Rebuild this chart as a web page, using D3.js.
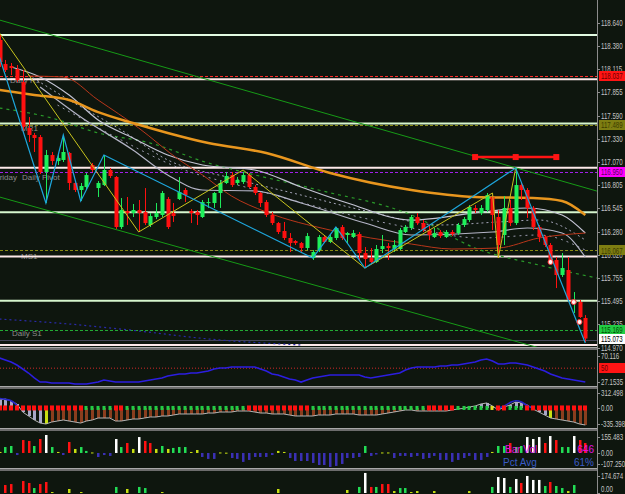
<!DOCTYPE html>
<html>
<head>
<meta charset="utf-8">
<script src="https://cdn.jsdelivr.net/npm/d3@7"></script>
<style>
  body { margin: 0; background: #0e160e; }
  svg { display: block; }
  text { font-family: "Liberation Sans", Arial, sans-serif; }
</style>
</head>
<body>
<div id="chart"></div>
<script>
// ---------- data ----------
var opens = [118.444,118.173,118.150,118.116,117.969,117.450,117.371,117.348,116.953,117.145,
  117.077,117.089,117.168,116.829,116.750,116.784,117.032,116.772,116.806,116.976,
  116.897,116.332,116.513,116.490,116.524,116.501,116.355,116.445,116.468,116.648,
  116.490,116.648,116.750,116.513,116.501,116.445,116.603,116.603,116.716,116.829,
  116.919,116.829,116.840,116.919,116.784,116.716,116.614,116.468,116.377,116.287,
  116.208,116.174,116.151,116.095,115.982,116.072,116.219,116.163,116.208,116.332,
  116.242,116.219,116.253,116.038,115.982,115.937,116.084,116.117,116.084,116.084,
  116.276,116.321,116.445,116.377,116.298,116.219,116.276,116.219,116.276,116.264,
  116.355,116.411,116.547,116.490,116.524,116.671,116.445,116.242,116.547,116.377,
  116.806,116.750,116.547,116.332,116.219,116.129,115.960,115.790,115.847,115.474,
  115.485,115.305];
var highs = [118.500,118.218,118.184,118.161,118.105,117.574,117.394,117.371,117.202,117.179,
  117.168,117.371,117.179,116.851,116.829,116.942,117.055,116.851,117.145,116.998,
  116.908,116.659,116.671,116.592,116.637,116.772,116.490,116.603,116.739,116.671,
  116.603,116.897,116.772,116.535,116.524,116.637,116.659,116.727,116.863,116.953,
  116.953,116.897,116.953,116.942,116.806,116.727,116.637,116.501,116.389,116.389,
  116.264,116.185,116.163,116.264,116.072,116.242,116.242,116.242,116.332,116.355,
  116.276,116.298,116.276,116.106,116.095,116.129,116.242,116.151,116.185,116.321,
  116.355,116.468,116.490,116.411,116.355,116.321,116.298,116.298,116.298,116.377,
  116.445,116.580,116.580,116.580,116.716,116.693,116.524,116.682,116.637,116.998,
  116.840,116.772,116.569,116.355,116.242,116.151,115.993,116.038,115.993,115.598,
  115.508,115.338];
var lows = [118.139,118.082,118.048,117.969,117.394,117.292,117.179,116.930,116.603,117.032,
  117.032,117.066,116.750,116.727,116.626,116.761,116.953,116.671,116.795,116.885,
  116.310,116.310,116.355,116.445,116.276,116.355,116.332,116.422,116.445,116.310,
  116.389,116.637,116.614,116.377,116.355,116.434,116.547,116.547,116.547,116.818,
  116.784,116.806,116.818,116.772,116.693,116.558,116.445,116.355,116.253,116.185,
  116.050,116.129,116.038,116.072,115.960,116.050,116.151,116.151,116.185,116.185,
  116.151,116.208,115.960,115.869,115.926,115.926,116.038,115.960,116.050,116.072,
  116.264,116.298,116.355,116.276,116.185,116.208,116.208,116.208,116.230,116.242,
  116.332,116.389,116.490,116.468,116.501,116.298,115.982,116.129,116.343,116.355,
  116.637,116.434,116.298,116.163,116.106,115.926,115.643,115.768,115.485,115.361,
  115.305,115.034];
var closes = [118.195,118.105,118.127,117.992,117.461,117.371,117.337,116.953,117.145,117.077,
  117.111,117.179,116.829,116.750,116.795,116.919,116.976,116.829,116.976,116.908,
  116.332,116.524,116.490,116.524,116.490,116.377,116.456,116.490,116.716,116.332,
  116.456,116.727,116.693,116.490,116.468,116.614,116.614,116.716,116.829,116.908,
  116.806,116.863,116.919,116.784,116.716,116.603,116.468,116.377,116.276,116.208,
  116.151,116.151,116.095,116.230,116.050,116.219,116.163,116.219,116.321,116.208,
  116.264,116.264,116.038,115.971,115.937,116.084,116.117,116.095,116.129,116.298,
  116.332,116.445,116.377,116.298,116.242,116.264,116.230,116.276,116.253,116.355,
  116.422,116.558,116.524,116.547,116.693,116.468,116.129,116.547,116.377,116.806,
  116.750,116.547,116.332,116.219,116.129,115.937,115.790,115.869,115.508,115.497,
  115.316,115.073];

// moving averages, [bar index, price]
var maOrange = [[0,117.879],[6,117.822],[12,117.766],[17,117.630],[23,117.506],[29,117.394],[36,117.280],
  [46,117.168],[57,116.942],[71,116.750],[82,116.671],[92,116.659],[97,116.626],[101,116.468]];
var maRed = [[5,118.037],[11,118.026],[17,117.766],[24,117.450],[31,117.089],[35,116.919],[40,116.682],
  [46,116.501],[57,116.298],[71,116.140],[78,116.084],[86,116.095],[93,116.208],[101,116.264]];
var maGrayUpper = [[2,118.139],[7,118.026],[12,117.822],[17,117.540],[23,117.337],[29,117.145],[35,117.032],
  [44,116.976],[52,116.784],[60,116.603],[71,116.411],[83,116.501],[91,116.547],[97,116.468],[101,116.264]];
var maGrayLower = [[7,117.913],[14,117.574],[23,117.202],[29,116.919],[35,116.750],[44,116.739],[52,116.603],
  [63,116.377],[71,116.242],[85,116.276],[91,116.321],[97,116.264],[101,115.993]];
var maGrayDash1 = [[5,118.048],[12,117.766],[21,117.427],[29,117.089],[40,116.885],[52,116.693],[64,116.501],
  [76,116.355],[86,116.389],[93,116.411],[101,116.185]];
var maGrayDash2 = [[10,117.709],[21,117.314],[31,116.998],[43,116.772],[57,116.524],[71,116.321],[83,116.208],
  [93,116.242],[101,116.072]];
var maGreenDash = [[0,117.676],[9,117.563],[17,117.394],[26,117.280],[36,117.055],[42,116.953],[55,116.750],
  [71,116.468],[82,116.095],[93,115.903],[103,115.756]];
var maBlueDot = [[0,115.293],[12,115.237],[24,115.158],[36,115.068],[52,115.000]];

// zigzags and channel
var zigCyan = [[0,118.250],[8,116.603],[11,117.371],[14,116.626],[18,117.145],[54,115.982],[58,116.332],
  [63,115.869],[89,116.998],[101,115.022]];
var zigYellow = [[0,118.522],[24,116.276],[42,116.976],[63,115.869],[85,116.716],[86,115.982],[89,116.998]];
var channelUpper = [[0,118.669],[103,116.738]];
var channelLower = [[0,116.671],[103,114.785]];
var topMarker = [[82,117.122],[89,117.122],[96,117.122]];
var arrowMarks = [[95,115.937],[99,115.485],[100,115.260]];

// price levels
var roundLevels = [118.5, 118.0, 117.5, 117.0, 116.5, 116.0, 115.5, 115.0];
var roundColors = ["#e2fbe2", "#fde9e9", "#d6f6ce", "#fde9e9", "#d6f6ce", "#fde9e9", "#d6f6ce", "#fde9e9"];
var markLevels = [118.037, 117.489, 116.950, 116.067, 115.169];
var markLine = ["#ff2a2a", "#8a8a14", "#a020e8", "#8a8a14", "#22aa33"];
var markBox = ["#ff1414", "#7e7e12", "#ff00ff", "#7e7e12", "#22cc44"];
var markText = ["#6a0000", "#3c3c00", "#5a005a", "#3c3c00", "#004a00"];
var lastPrice = 115.073;
var priceTicks = [118.640, 118.380, 118.115, 117.855, 117.590, 117.330, 117.070, 116.805, 116.545,
  116.280, 116.020, 115.755, 115.495, 115.235, 114.970];

// lower panels
var rsi = [66.8,63.5,60.2,55.2,48.6,42.0,33.8,27.1,27.1,25.5,
  25.5,25.5,25.5,23.8,23.8,23.8,25.5,27.1,30.4,28.8,
  27.1,27.1,27.1,27.1,27.1,28.8,30.4,32.1,33.8,37.1,
  38.7,40.4,40.4,42.0,42.0,43.7,45.3,48.6,50.3,50.3,
  51.9,51.9,51.9,51.9,51.9,48.6,45.3,40.4,38.7,35.4,
  32.1,30.4,27.1,30.4,33.8,35.4,37.1,38.7,38.7,38.7,
  38.7,38.7,38.7,35.4,33.8,35.4,37.1,38.7,40.4,42.0,
  47.0,50.3,51.9,51.9,51.9,51.9,53.6,53.6,55.2,55.2,
  56.9,58.5,60.2,63.5,65.2,61.9,56.9,56.9,58.5,58.5,
  56.9,55.2,51.9,48.6,45.3,40.4,37.1,33.8,32.1,30.4,
  28.8,27.1];
var rsiTicks = [70.116, 27.1535];

var macdHist = [166,187,145,83,-85,-168,-252,-315,-335,-294,
  -273,-252,-273,-294,-315,-273,-252,-210,-210,-210,
  -273,-273,-252,-231,-231,-210,-189,-189,-168,-168,
  -147,-126,-126,-126,-126,-126,-106,-106,-85,-85,
  -85,-64,-64,-64,-85,-106,-106,-126,-126,-126,
  -147,-168,-168,-168,-168,-147,-147,-147,-126,-126,
  -126,-126,-147,-147,-147,-147,-126,-106,-85,-64,
  -43,-43,-64,-64,-64,-64,-64,-64,-43,-22,
  -10,20,41,83,104,41,-43,20,62,124,
  104,62,-22,-85,-147,-210,-231,-252,-273,-294,
  -335,-356];
var macdBarKind = "llllllllyn" + "nnnnnnnnnn" + "nnnnnnnnnn" + "nnnnnnnnnn" + "nnnnnnnnnn" +
  "nnnnnnnnnn" + "nnnnnnnnnn" + "nnnnnnnnnn" + "nlllllllll" + "llnllynnnn" + "nn";
var macdDots = "rrrrrrrrrr" + "rrrrrggggg" + "rrgggggggg" + "gggggggggg" + "gggrrrrrrr" +
  "rrrrgggggg" + "gggggggggg" + "ggggrrrrrg" + "gggggyrrgg" + "grrrrrrrrr" + "rr";
var macdBlue = [[[0,200],[1,180],[2,150],[3,60]], [[86,0],[87,40],[88,110],[89,150],[90,125],[91,45],[92,0]]];
var macdTicks = [312.498, 0, -335.398];

var vol4 = [10,58,68,-20,126,117,68,136,175,58,
  10,-20,107,39,58,20,5,-39,-20,-29,
  136,58,97,39,155,117,97,39,68,39,
  49,58,58,10,29,-39,-58,-58,5,3,
  -49,-58,-87,-68,-39,-39,-39,-20,20,10,
  -49,-78,-78,-78,-97,-117,-117,-136,-126,-107,
  -49,-49,-39,68,-29,-15,5,5,-49,-29,
  -29,-39,-29,-58,-49,-29,-68,-68,-87,-68,
  -49,-29,-68,-68,-39,10,68,68,97,58,
  68,155,136,155,97,165,126,58,58,165,
  126,97];
var vol4Kind = "yggbrrgrwg" + "ybryggybbb" + "wgrywrrygy" + "gggyybbbyy" + "bbbbbbbbyy" +
  "bbbbbbbbbb" + "bbbgbbyybb" + "bbbbbbbbbb" + "bbbbbyggrg" + "gwwwrwrggw" + "rr";
var vol4Ticks = [155.483, 0, -107.250];

var vol5 = [0,82,92,0,123,103,51,92,113,10,
  0,0,41,0,10,0,0,0,0,0,
  62,0,41,0,62,51,0,0,10,0,
  0,0,0,0,0,0,0,0,0,0,
  0,0,0,0,0,0,0,0,41,0,
  0,0,0,0,0,0,0,0,0,0,
  31,0,62,206,62,62,92,92,20,51,
  51,10,20,0,0,20,0,0,0,0,
  0,20,0,0,0,62,164,154,62,144,
  103,175,134,134,72,113,72,51,20,82,
  0,0];
var vol5Kind = ".rr.rrgrry" + "..y.y....." + "g.y.gg..y." + ".........." + "........y." +
  ".........." + "y.gwrgrryg" + "gyy..y...." + ".y...gwwgw" + "rwwwgrggyg" + "..";
var vol5Ticks = [174.674, 0];

// ---------- drawing ----------
var width = 625, height = 494, plotRight = 597;
var bg = "#0e160e", axisColor = "#c4c4c4";
var kindColor = { r: "#ff1212", g: "#22dd55", w: "#ffffff", y: "#c8e012", b: "#3a30b4",
                  n: "#8a3e1e", l: "#a8a8c8" };

var x = d3.scaleLinear().domain([0, 101]).range([-0.5, 585.3]);
var y = d3.scaleLinear().domain([118.5, 115.0]).range([35, 345]);
var yRsi = d3.scaleLinear().domain([70.116, 27.1535]).range([356, 382]);
var yMacd = d3.scaleLinear().domain([312.498, -335.398]).range([393, 424]);
var yVol4 = d3.scaleLinear().domain([155.483, -107.250]).range([437, 464]);
var yVol5 = d3.scaleLinear().domain([174.674, 0]).range([476, 493]);

var svg = d3.select("#chart").append("svg")
    .attr("width", width)
    .attr("height", height);

svg.append("rect").attr("width", width).attr("height", height).attr("fill", bg);

var defs = svg.append("defs");
function addClip(id, y0, y1) {
  defs.append("clipPath").attr("id", id)
    .append("rect").attr("x", 0).attr("y", y0).attr("width", plotRight).attr("height", y1 - y0);
}
addClip("clipMain", 0, 347);
addClip("clipRsi", 350, 386);
addClip("clipMacd", 389, 429);
addClip("clipV4", 431, 468);
addClip("clipV5", 471, 494);

var main = svg.append("g").attr("clip-path", "url(#clipMain)");

var lineIdx = d3.line().x(function(d) { return x(d[0]); }).y(function(d) { return y(d[1]); });
var smooth = d3.line().x(function(d) { return x(d[0]); }).y(function(d) { return y(d[1]); })
    .curve(d3.curveMonotoneX);

// pivot text labels
var labelStyle = { fill: "#8c8c8c", size: "8px" };
[["Daily R1", 10, 83], ["MR1", 21, 131], ["Daily Pivot", 22, 180], ["MS1", 21, 259], ["Daily S1", 12, 336]]
  .forEach(function(t) {
    main.append("text").attr("x", t[1]).attr("y", t[2]).text(t[0])
      .style("fill", labelStyle.fill).style("font-size", labelStyle.size);
  });
main.append("text").attr("x", 17).attr("y", 180).attr("text-anchor", "end").text("Friday")
  .style("fill", labelStyle.fill).style("font-size", labelStyle.size);

// dashed marker levels
markLevels.forEach(function(p, i) {
  main.append("line")
    .attr("x1", 0).attr("x2", plotRight)
    .attr("y1", Math.round(y(p)) + 0.5).attr("y2", Math.round(y(p)) + 0.5)
    .style("stroke", markLine[i]).style("stroke-dasharray", "3,2");
});
// bid line
main.append("line")
  .attr("x1", 0).attr("x2", plotRight)
  .attr("y1", Math.round(y(lastPrice)) + 1.5).attr("y2", Math.round(y(lastPrice)) + 1.5)
  .style("stroke", "#454558");

// round number levels
roundLevels.forEach(function(p, i) {
  main.append("line")
    .attr("x1", 0).attr("x2", plotRight)
    .attr("y1", y(p)).attr("y2", y(p))
    .style("stroke", roundColors[i]).style("stroke-width", 2);
});

// channel
[channelUpper, channelLower].forEach(function(c) {
  main.append("path").datum(c).attr("d", lineIdx)
    .style("fill", "none").style("stroke", "#169a16").style("stroke-width", 1);
});

// moving averages
function drawMa(data, color, w, dash) {
  main.append("path").datum(data).attr("d", smooth)
    .style("fill", "none").style("stroke", color).style("stroke-width", w)
    .style("stroke-dasharray", dash || null);
}
drawMa(maBlueDot, "#2a2aa8", 1.2, "2,3");
drawMa(maGreenDash, "#2a9a2a", 1.2, "3,4");
drawMa(maGrayDash2, "#9a9aae", 1, "2,4");
drawMa(maGrayDash1, "#a4a4b8", 1, "2,3");
drawMa(maGrayLower, "#b4b4c6", 1.2);
drawMa(maGrayUpper, "#c4c4d4", 1.2);
drawMa(maRed, "#b8361a", 1);
drawMa(maOrange, "#e8961e", 2.5);

// candles
var idx = d3.range(opens.length);
main.selectAll(".wick").data(idx).enter().append("line")
  .attr("class", "wick")
  .attr("x1", function(i) { return Math.round(x(i)) + 0.5; })
  .attr("x2", function(i) { return Math.round(x(i)) + 0.5; })
  .attr("y1", function(i) { return y(highs[i]); })
  .attr("y2", function(i) { return y(lows[i]); })
  .style("stroke", function(i) { return closes[i] >= opens[i] ? "#1ee85a" : "#ff1010"; });
main.selectAll(".body").data(idx).enter().append("rect")
  .attr("class", "body")
  .attr("x", function(i) { return Math.round(x(i)) - 1.5; })
  .attr("width", 4)
  .attr("y", function(i) { return y(Math.max(opens[i], closes[i])); })
  .attr("height", function(i) { return Math.max(1, Math.abs(y(opens[i]) - y(closes[i]))); })
  .style("fill", function(i) { return closes[i] >= opens[i] ? "#1ef05a" : "#ff1010"; });

// zigzags
main.append("path").datum(zigYellow).attr("d", lineIdx)
  .style("fill", "none").style("stroke", "#c8c41e").style("stroke-width", 1);
main.append("path").datum(zigCyan).attr("d", lineIdx)
  .style("fill", "none").style("stroke", "#1ea6dc").style("stroke-width", 1.2);

// red top marker
main.append("path").datum(topMarker).attr("d", lineIdx)
  .style("fill", "none").style("stroke", "#ff1414").style("stroke-width", 2.5);
main.selectAll(".tm").data(topMarker).enter().append("rect")
  .attr("x", function(d) { return x(d[0]) - 3; }).attr("y", function(d) { return y(d[1]) - 3; })
  .attr("width", 6).attr("height", 6).style("fill", "#ff1414");

main.selectAll(".am").data(arrowMarks).enter().append("circle")
  .attr("cx", function(d) { return x(d[0]); }).attr("cy", function(d) { return y(d[1]); })
  .attr("r", 2.5).style("fill", "#fff0f0").style("stroke", "#ff3030");

// ---------- lower panels ----------
var rsiG = svg.append("g").attr("clip-path", "url(#clipRsi)");
rsiG.append("line").attr("x1", 0).attr("x2", plotRight)
  .attr("y1", yRsi(50)).attr("y2", yRsi(50))
  .style("stroke", "#d02828").style("stroke-dasharray", "1,2");
rsiG.append("path").datum(rsi)
  .attr("d", d3.line().x(function(d, i) { return x(i); }).y(function(d) { return yRsi(d); }))
  .style("fill", "none").style("stroke", "#2c1ee0").style("stroke-width", 1.6);

var macdG = svg.append("g").attr("clip-path", "url(#clipMacd)");
macdG.selectAll(".mb").data(idx).enter().append("rect")
  .attr("x", function(i) { return Math.round(x(i)) - 1; })
  .attr("width", 3)
  .attr("y", function(i) { return Math.min(yMacd(0), yMacd(macdHist[i])); })
  .attr("height", function(i) { return Math.abs(yMacd(macdHist[i]) - yMacd(0)); })
  .style("fill", function(i) { return kindColor[macdBarKind[i]]; });
macdG.append("path").datum(macdHist)
  .attr("d", d3.line().x(function(d, i) { return x(i); }).y(function(d) { return yMacd(d); }))
  .style("fill", "none").style("stroke", "#b4b4b4").style("stroke-width", 1);
macdBlue.forEach(function(seg) {
  macdG.append("path").datum(seg)
    .attr("d", d3.line().x(function(d) { return x(d[0]); }).y(function(d) { return yMacd(d[1]); })
      .curve(d3.curveMonotoneX))
    .style("fill", "none").style("stroke", "#2424c8").style("stroke-width", 1.6);
});
macdG.selectAll(".md").data(idx).enter().append("rect")
  .attr("x", function(i) { return Math.round(x(i)) - (macdDots[i] === "r" ? 2 : 1.5); })
  .attr("y", function(i) { return yMacd(0) - (macdDots[i] === "r" ? 2.5 : 2); })
  .attr("width", function(i) { return macdDots[i] === "r" ? 4 : 3; })
  .attr("height", function(i) { return macdDots[i] === "r" ? 5 : 4; })
  .style("fill", function(i) {
    return macdDots[i] === "r" ? "#ff1010" : macdDots[i] === "y" ? "#e0e020" : "#22cc44";
  });

function volBars(g, vals, kinds, sc) {
  g.selectAll(".vb").data(idx.filter(function(i) { return kinds[i] !== "." && vals[i] !== 0; }))
    .enter().append("rect")
    .attr("x", function(i) { return Math.round(x(i)) - 1; })
    .attr("width", 2.5)
    .attr("y", function(i) { return Math.min(sc(0), sc(vals[i])); })
    .attr("height", function(i) { return Math.max(1, Math.abs(sc(vals[i]) - sc(0))); })
    .style("fill", function(i) { return kindColor[kinds[i]]; });
}
var v4G = svg.append("g").attr("clip-path", "url(#clipV4)");
volBars(v4G, vol4, vol4Kind, yVol4);
var v5G = svg.append("g").attr("clip-path", "url(#clipV5)");
volBars(v5G, vol5, vol5Kind, yVol5);

// volume texts
svg.append("text").attr("x", 505).attr("y", 453).text("Bar Vol")
  .style("fill", "#e010e0").style("font-size", "10px");
svg.append("text").attr("x", 594).attr("y", 453).attr("text-anchor", "end").text("646")
  .style("fill", "#e010e0").style("font-size", "10px");
svg.append("text").attr("x", 503).attr("y", 466).text("Pct Avg")
  .style("fill", "#3a5cc8").style("font-size", "10px");
svg.append("text").attr("x", 594).attr("y", 466).attr("text-anchor", "end").text("61%")
  .style("fill", "#3a5cc8").style("font-size", "10px");

// panel separators
[[347, 3], [386, 3], [428, 3], [468, 3]].forEach(function(s) {
  svg.append("rect").attr("x", 0).attr("y", s[0]).attr("width", plotRight).attr("height", s[1])
    .style("fill", "#6c6c6c");
  svg.append("rect").attr("x", 0).attr("y", s[0]).attr("width", plotRight).attr("height", 1)
    .style("fill", "#a8a8a8");
});

// ---------- right axis ----------
svg.append("line").attr("x1", plotRight + 0.5).attr("x2", plotRight + 0.5)
  .attr("y1", 0).attr("y2", height).style("stroke", "#8c8c8c");

// labels are squeezed horizontally into the narrow strip right of the plot
function axisText(yy, txt, color) {
  var ty = Math.min(yy, height - 5);
  var g = svg.append("g").attr("transform", "translate(601," + ty + ") scale(0.68,1)");
  return g.append("text").attr("x", 0).attr("y", 0).attr("dy", "0.35em")
    .text(txt).style("fill", color).style("font-size", "9px");
}
function axisLabels(vals, sc, fmt) {
  vals.forEach(function(v) {
    var yy = sc(v);
    svg.append("line").attr("x1", plotRight).attr("x2", plotRight + 3)
      .attr("y1", Math.round(yy) + 0.5).attr("y2", Math.round(yy) + 0.5).style("stroke", "#8c8c8c");
    axisText(yy, fmt(v), axisColor);
  });
}
axisLabels(priceTicks, y, function(v) { return v.toFixed(3); });
axisLabels(rsiTicks, yRsi, function(v) { return String(v); });
axisLabels(macdTicks, yMacd, function(v) { return v.toFixed(v === 0 ? 2 : 3); });
axisLabels(vol4Ticks, yVol4, function(v) { return v.toFixed(v === 0 ? 2 : 3); });
axisLabels(vol5Ticks, yVol5, function(v) { return v.toFixed(v === 0 ? 2 : 3); });

function priceBox(yy, fill, txt, color) {
  svg.append("rect").attr("x", plotRight + 2).attr("y", Math.round(yy) - 5)
    .attr("width", width - plotRight - 2).attr("height", 10).style("fill", fill);
  axisText(yy, txt, color);
}
markLevels.forEach(function(p, i) {
  priceBox(y(p), markBox[i], p.toFixed(3), markText[i]);
});
priceBox(y(lastPrice), "#ffffff", lastPrice.toFixed(3), "#000000");
priceBox(yRsi(50), "#ff1414", "50", "#6a0000");
</script>
</body>
</html>
